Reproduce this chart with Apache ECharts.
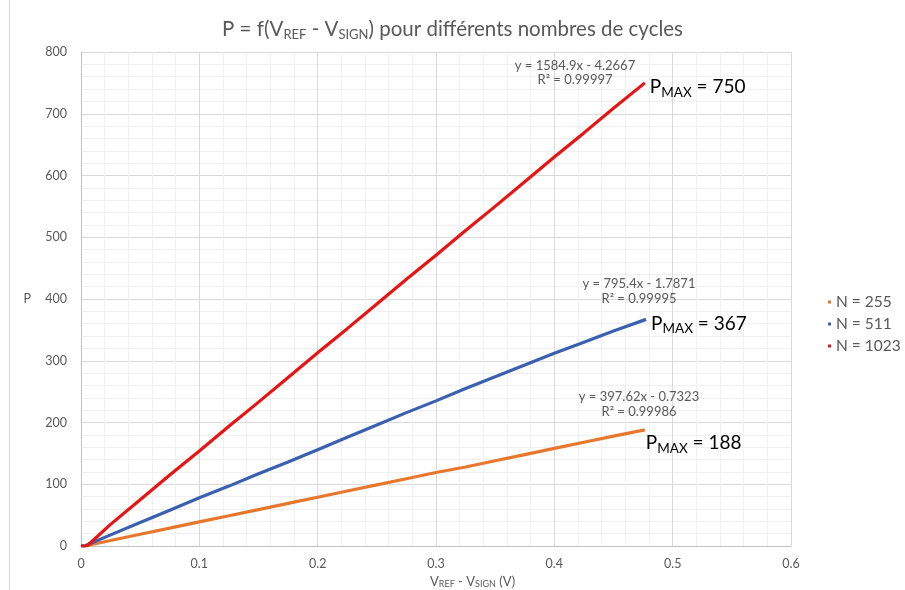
<!DOCTYPE html>
<html>
<head>
<meta charset="utf-8">
<script src="https://cdn.jsdelivr.net/npm/echarts@6/dist/echarts.min.js"></script>
<style>
  html, body { margin: 0; padding: 0; background: #ffffff; }
  #chart { width: 905px; height: 590px; }
</style>
</head>
<body>
<div id="chart"></div>
<script>
// Measured points: P versus V_REF - V_SIGN (V), one set per cycle count N
const seriesNames = ['N = 255', 'N = 511', 'N = 1023'];

const v255 = [0, 0.003, 0.025, 0.05, 0.075, 0.1, 0.125, 0.15, 0.175, 0.2, 0.225, 0.25, 0.275, 0.3, 0.325, 0.35, 0.375, 0.4, 0.425, 0.45, 0.4765];
const p255 = [0, 0, 9, 19, 29, 39, 49, 59, 69, 79, 89, 99, 109, 119, 128, 138, 148, 158, 168, 178, 188];

const v511 = [0, 0.003, 0.025, 0.05, 0.075, 0.1, 0.125, 0.15, 0.175, 0.2, 0.225, 0.25, 0.275, 0.3, 0.325, 0.35, 0.375, 0.4, 0.425, 0.45, 0.4775];
const p511 = [0, 0, 18, 38, 58, 78, 97, 117, 136, 156, 176, 196, 216, 235, 255, 274, 293, 312, 330, 348, 367];

const v1023 = [0, 0.005, 0.025, 0.05, 0.075, 0.1, 0.125, 0.15, 0.175, 0.2, 0.225, 0.25, 0.275, 0.3, 0.325, 0.35, 0.375, 0.4, 0.425, 0.45, 0.4765];
const p1023 = [0, 0, 35, 75, 115, 154, 194, 233, 273, 313, 352, 392, 432, 471, 511, 550, 590, 630, 669, 709, 750];

// Linear trendline annotations
const trendEquations = ['y = 397.62x - 0.7323', 'y = 795.4x - 1.7871', 'y = 1584.9x - 4.2667'];
const trendR2 = ['R² = 0.99986', 'R² = 0.99995', 'R² = 0.99997'];

// Axis ticks
const xTicks = [0, 0.1, 0.2, 0.3, 0.4, 0.5, 0.6];
const yTicks = [0, 100, 200, 300, 400, 500, 600, 700, 800];

const FONT = 'Lato, "Open Sans", sans-serif';
const GREY = '#595959';
const colors = ['#e8772e', '#3b60b0', '#e81414'];

function pairs(xs, ys) { return xs.map((x, i) => [x, ys[i]]); }

const sets = [pairs(v255, p255), pairs(v511, p511), pairs(v1023, p1023)];
const endOffsets = [[-3, 13], [1, 4], [1, 4]];

const pmaxRich = {
  a: { fontFamily: FONT, fontSize: 19, color: '#000000' },
  b: { fontFamily: FONT, fontSize: 13.5, color: '#000000', padding: [11, 0, 0, 0] }
};

const series = sets.map((d, i) => ({
  name: seriesNames[i],
  type: 'line',
  data: d,
  showSymbol: false,
  symbol: 'none',
  color: colors[i],
  lineStyle: { width: 3.2, color: colors[i] },
  z: 2 + i,
  animation: false,
  endLabel: {
    show: true,
    distance: 4,
    offset: endOffsets[i],
    formatter: p => '{a|P}{b|MAX}{a| = ' + p.value[1] + '}',
    rich: pmaxRich
  }
}));

const chart = echarts.init(document.getElementById('chart'), null, { renderer: 'canvas' });

const subRich = (big, small, pad) => ({
  n: { fontFamily: FONT, fontSize: big, fontWeight: 'normal', color: GREY },
  s: { fontFamily: FONT, fontSize: small, fontWeight: 'normal', color: GREY, padding: [pad, 0, 0, 0] }
});

// Trendline text positions (pixel centres)
const trendPos = [
  [[639, 397], [639, 412]],
  [[639, 284], [639, 299]],
  [[575, 66], [575, 80]]
];

const graphic = [
  { type: 'line', shape: { x1: 9.5, y1: 0, x2: 9.5, y2: 590 }, style: { stroke: '#d9d9d9', lineWidth: 1 } }
];
trendPos.forEach((pp, i) => {
  [trendEquations[i], trendR2[i]].forEach((t, k) => {
    graphic.push({
      type: 'text', x: pp[k][0], y: pp[k][1],
      style: { text: t, font: '13px ' + FONT, fill: GREY, textAlign: 'center', textVerticalAlign: 'middle' },
      z: 10
    });
  });
});

chart.setOption({
  backgroundColor: '#ffffff',
  animation: false,
  title: {
    text: '{n|P = f(V}{s|REF}{n| - V}{s|SIGN}{n|) pour différents nombres de cycles}',
    left: 'center',
    top: 13,
    textStyle: { fontWeight: 'normal', rich: subRich(20.5, 13, 10) }
  },
  legend: {
    orient: 'vertical',
    left: 823,
    top: 289,
    itemWidth: 3,
    itemHeight: 3,
    itemGap: 6,
    icon: 'rect',
    data: seriesNames,
    textStyle: { fontFamily: FONT, fontSize: 15.5, color: GREY }
  },
  grid: { left: 81, right: 114, top: 52, bottom: 44, containLabel: false, outerBoundsMode: 'none' },
  xAxis: {
    type: 'value',
    min: xTicks[0],
    max: xTicks[xTicks.length - 1],
    interval: xTicks[1] - xTicks[0],
    name: '{n|V}{s|REF}{n| - V}{s|SIGN}{n| (V)}',
    nameLocation: 'middle',
    nameGap: 28,
    nameTextStyle: { align: 'left', padding: [0, 0, 0, -6], rich: subRich(13, 9, 6) },
    axisLine: { lineStyle: { color: '#bfbfbf', width: 1 } },
    axisTick: { show: false },
    axisLabel: { color: GREY, fontFamily: FONT, fontSize: 12.5, margin: 11 },
    splitLine: { show: true, lineStyle: { color: '#d9d9d9', width: 1 } },
    minorTick: { show: false, splitNumber: 5 },
    minorSplitLine: { show: true, lineStyle: { color: '#f0f0f0', width: 1 } }
  },
  yAxis: {
    type: 'value',
    min: yTicks[0],
    max: yTicks[yTicks.length - 1],
    interval: yTicks[1] - yTicks[0],
    name: 'P',
    nameLocation: 'middle',
    nameRotate: 0,
    nameGap: 50,
    nameTextStyle: { color: GREY, fontFamily: FONT, fontSize: 12.5 },
    axisLine: { show: true, lineStyle: { color: '#bfbfbf', width: 1 } },
    axisTick: { show: false },
    axisLabel: { color: GREY, fontFamily: FONT, fontSize: 12.5, margin: 14 },
    splitLine: { show: true, lineStyle: { color: '#d9d9d9', width: 1 } },
    minorTick: { show: false, splitNumber: 5 },
    minorSplitLine: { show: true, lineStyle: { color: '#f0f0f0', width: 1 } }
  },
  graphic: graphic,
  series: series
});
</script>
</body>
</html>
